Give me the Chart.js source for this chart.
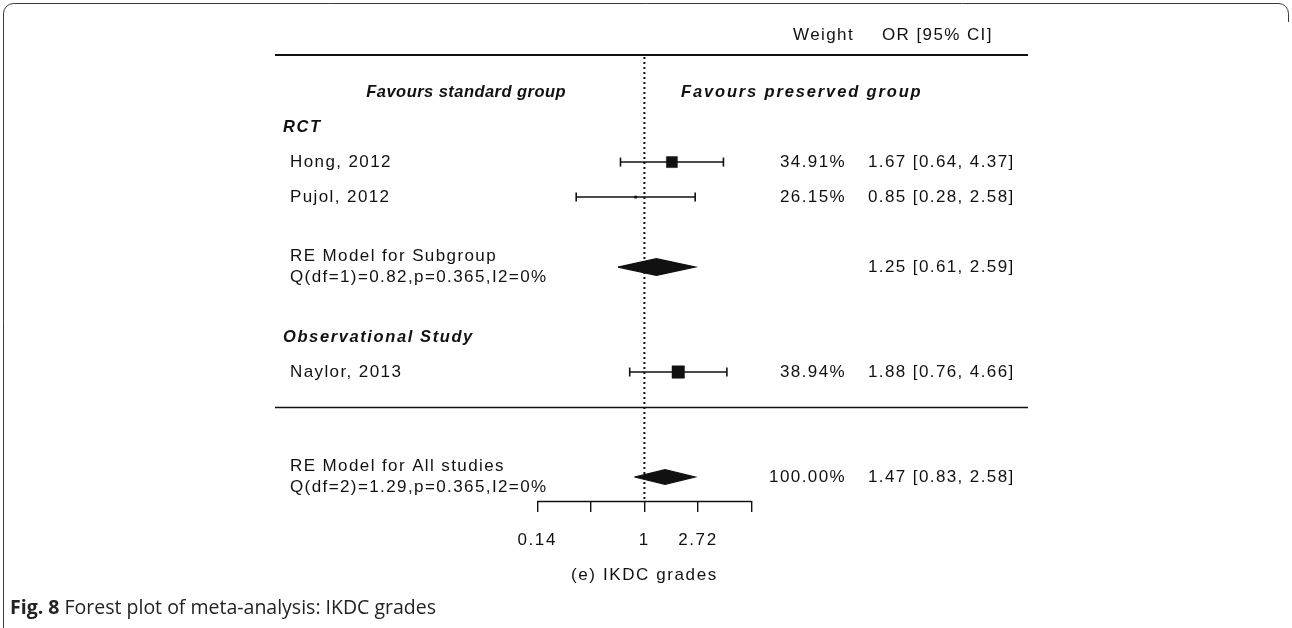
<!DOCTYPE html>
<html>
<head>
<meta charset="utf-8">
<script src="https://cdn.jsdelivr.net/npm/chart.js@4.4.1/dist/chart.umd.min.js"></script>
<style>
  html, body { margin: 0; padding: 0; background: #ffffff; }
  #wrap { position: relative; width: 1292px; height: 628px; }
  canvas { position: absolute; left: 0; top: 0; }
</style>
</head>
<body>
<div id="wrap"><canvas id="c" width="1292" height="628"></canvas></div>
<script>
// ---------------- data ----------------
const studies = ['Hong, 2012', 'Pujol, 2012', 'Naylor, 2013'];
const orValues = [1.67, 0.85, 1.88];
const ciLower = [0.64, 0.28, 0.76];
const ciUpper = [4.37, 2.58, 4.66];
const weights = [34.91, 26.15, 38.94];

const groupHeaders = ['RCT', 'Observational Study'];

const summaryLabels = ['RE Model for Subgroup', 'RE Model for All studies'];
const summaryStats = ['Q(df=1)=0.82,p=0.365,I2=0%', 'Q(df=2)=1.29,p=0.365,I2=0%'];
const summaryOR = [1.25, 1.47];
const summaryLower = [0.61, 0.83];
const summaryUpper = [2.59, 2.58];
const summaryWeight = [null, 100.00];

const tickLogs = [-2, -1, 0, 1, 2];
const tickLabels = ['0.14', '', '1', '2.72', ''];

const favourLabels = ['Favours standard group', 'Favours preserved group'];
const columnHeaders = ['Weight', 'OR [95% CI]'];
const axisTitle = '(e) IKDC grades';

// ---------------- layout (rows, sizes) ----------------
const studyRows = [10, 9, 4];
const headerRows = [11, 5];
const summaryRows = [7, 1];
const favourRow = 12;
const separatorRow = 3;
const squareRadius = [7.8, 1.6, 8.8];
const diamondHalf = [0.24, 0.21];

const INK = '#111111';
const FONT = '"Liberation Sans", Arial, sans-serif';

const ln = Math.log;
const datasets = [];

// reference dotted line at OR = 1
datasets.push({
  type: 'scatter', showLine: true,
  data: [{x: 0, y: 13.0}, {x: 0, y: 0.314}],
  borderColor: INK, borderWidth: 2, borderDash: [2, 3],
  pointRadius: 0, clip: false
});

// confidence intervals with end caps
studies.forEach((s, i) => {
  datasets.push({
    type: 'scatter', showLine: true,
    data: [{x: ln(ciLower[i]), y: studyRows[i]}, {x: ln(ciUpper[i]), y: studyRows[i]}],
    borderColor: INK, borderWidth: 1.6,
    pointStyle: 'line', pointRotation: 90, pointRadius: 4.5,
    pointBorderColor: INK, pointBorderWidth: 1.6
  });
});

// study squares
datasets.push({
  type: 'scatter',
  data: studies.map((s, i) => ({x: ln(orValues[i]), y: studyRows[i]})),
  pointStyle: 'rect', pointRadius: squareRadius,
  backgroundColor: INK, borderColor: INK, borderWidth: 0.5
});

// summary diamonds
summaryOR.forEach((v, i) => {
  const r = summaryRows[i], h = diamondHalf[i];
  datasets.push({
    type: 'scatter', showLine: true,
    data: [
      {x: ln(summaryLower[i]), y: r},
      {x: ln(v), y: r + h},
      {x: ln(summaryUpper[i]), y: r},
      {x: ln(v), y: r - h},
      {x: ln(summaryLower[i]), y: r}
    ],
    borderColor: INK, borderWidth: 1.2, backgroundColor: INK,
    fill: 'shape', pointRadius: 0, tension: 0
  });
});

const fmt = v => v.toFixed(2);

const spacingPlugin = {
  id: 'axisSpacing',
  beforeDraw(chart) { chart.ctx.letterSpacing = '1.6px'; }
};

const textPlugin = {
  id: 'forestText',
  afterDraw(chart) {
    const {ctx, chartArea: a, scales: {x, y}} = chart;
    ctx.save();
    ctx.fillStyle = INK;
    ctx.strokeStyle = INK;

    // horizontal rules
    ctx.lineWidth = 1.8;
    ctx.beginPath(); ctx.moveTo(a.left, a.top); ctx.lineTo(a.right, a.top); ctx.stroke();
    ctx.lineWidth = 1.6;
    const sy = Math.round(y.getPixelForValue(separatorRow)) + 0.5;
    ctx.beginPath(); ctx.moveTo(a.left, sy); ctx.lineTo(a.right, sy); ctx.stroke();

    // axis line from first to last tick
    ctx.lineWidth = 1.4;
    const ay = Math.round(a.bottom) + 0.5;
    ctx.beginPath();
    ctx.moveTo(x.getPixelForValue(tickLogs[0]), ay);
    ctx.lineTo(x.getPixelForValue(tickLogs[tickLogs.length - 1]), ay);
    ctx.stroke();

    ctx.textBaseline = 'middle';
    const normal = '17px ' + FONT;
    const boldIt = 'italic bold 16.5px ' + FONT;

    // axis title, centred on the null line
    ctx.font = normal; ctx.letterSpacing = '1.6px';
    ctx.textAlign = 'center';
    ctx.fillText(axisTitle, x.getPixelForValue(0), 575);

    // column headers
    ctx.letterSpacing = '1.4px';
    ctx.textAlign = 'right'; ctx.fillText(columnHeaders[0], 854, a.top - 20);
    ctx.textAlign = 'left'; ctx.fillText(columnHeaders[1], 882, a.top - 20);

    // favours labels
    ctx.font = boldIt;
    const fy = y.getPixelForValue(favourRow);
    ctx.letterSpacing = '0.45px';
    ctx.textAlign = 'right'; ctx.fillText(favourLabels[0], 566, fy);
    ctx.letterSpacing = '1.85px';
    ctx.textAlign = 'left'; ctx.fillText(favourLabels[1], 681, fy);

    // group headers
    ctx.letterSpacing = '1.6px';
    ctx.textAlign = 'left';
    groupHeaders.forEach((g, i) => ctx.fillText(g, 283, y.getPixelForValue(headerRows[i])));

    // studies
    ctx.font = normal; ctx.letterSpacing = '1.4px';
    studies.forEach((s, i) => {
      const py = y.getPixelForValue(studyRows[i]);
      ctx.textAlign = 'left';
      ctx.fillText(s, 290, py);
      ctx.textAlign = 'right';
      ctx.fillText(fmt(weights[i]) + '%', 846, py);
      ctx.textAlign = 'left';
      ctx.fillText(fmt(orValues[i]) + ' [' + fmt(ciLower[i]) + ', ' + fmt(ciUpper[i]) + ']', 868, py);
    });

    // summaries
    summaryLabels.forEach((s, i) => {
      const py = y.getPixelForValue(summaryRows[i]);
      const dy = y.getPixelForValue(summaryRows[i] - 0.3) - py;
      ctx.textAlign = 'left';
      ctx.fillText(s, 290, py - dy);
      ctx.fillText(summaryStats[i], 290, py + dy);
      if (summaryWeight[i] !== null) {
        ctx.textAlign = 'right';
        ctx.fillText(fmt(summaryWeight[i]) + '%', 846, py);
      }
      ctx.textAlign = 'left';
      ctx.fillText(fmt(summaryOR[i]) + ' [' + fmt(summaryLower[i]) + ', ' + fmt(summaryUpper[i]) + ']', 868, py);
    });

    // figure frame
    ctx.letterSpacing = '0px';
    ctx.lineWidth = 1; ctx.strokeStyle = '#3a3a3a';
    ctx.beginPath();
    ctx.moveTo(3.5, 628);
    ctx.lineTo(3.5, 13);
    ctx.arcTo(3.5, 3.5, 13, 3.5, 10);
    ctx.lineTo(1279, 3.5);
    ctx.arcTo(1288.5, 3.5, 1288.5, 13, 10);
    ctx.lineTo(1288.5, 22);
    ctx.stroke();

    // caption
    ctx.fillStyle = '#222';
    ctx.textBaseline = 'alphabetic';
    ctx.textAlign = 'left';
    ctx.font = 'bold 19.5px "Open Sans", "Noto Sans", sans-serif';
    const fig = 'Fig. 8';
    ctx.fillText(fig, 10, 614);
    const w = ctx.measureText(fig + ' ').width;
    ctx.font = '19.5px "Open Sans", "Noto Sans", sans-serif';
    ctx.fillText('Forest plot of meta-analysis: IKDC grades', 10 + w, 614);
    ctx.restore();
  }
};

new Chart(document.getElementById('c'), {
  type: 'scatter',
  data: { datasets },
  options: {
    responsive: false,
    animation: false,
    devicePixelRatio: 1,
    layout: { padding: { left: 275, right: 264, top: 55, bottom: 40 } },
    plugins: { legend: { display: false }, tooltip: { enabled: false } },
    scales: {
      x: {
        type: 'linear', min: -6.894, max: 7.159,
        afterBuildTicks: s => { s.ticks = tickLogs.map(v => ({ value: v })); },
        afterFit: s => { s.height = 87; },
        grid: { drawOnChartArea: false, tickLength: 11, color: INK, lineWidth: 1.4 },
        border: { display: false },
        ticks: {
          autoSkip: false, maxRotation: 0, padding: 18, color: INK,
          font: { family: FONT, size: 17 },
          callback: (v, i) => tickLabels[i]
        },
        title: { display: false }
      },
      y: { type: 'linear', display: false, min: 0.314, max: 13.06 }
    }
  },
  plugins: [spacingPlugin, textPlugin]
});
</script>
</body>
</html>
